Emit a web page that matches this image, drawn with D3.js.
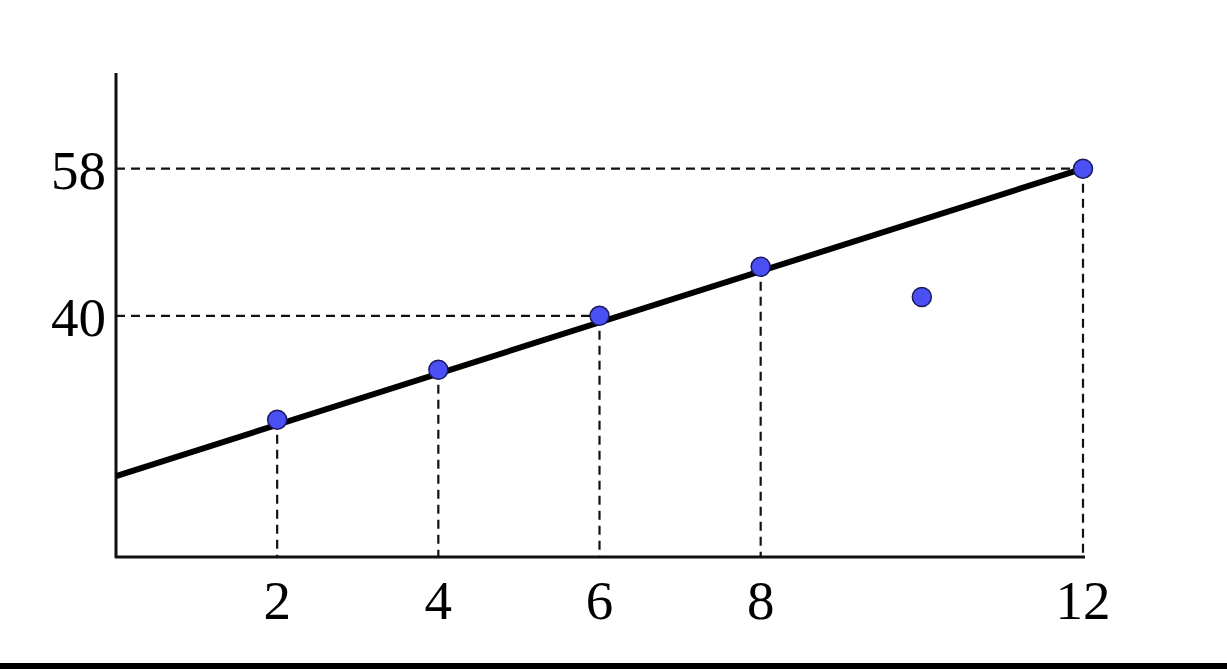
<!DOCTYPE html>
<html><head><meta charset="utf-8">
<script src="https://cdn.jsdelivr.net/npm/d3@7"></script>
<style>html,body{margin:0;padding:0;background:#fff;}svg{display:block;}</style>
</head><body>
<svg id="c" width="1227" height="669"></svg>
<script>
const xTicks = [2, 4, 6, 8, 12];
const yTicks = [40, 58];
const pointX = [2, 4, 6, 8, 10, 12];
const pointY = [27.3, 33.4, 40, 46.0, 42.3, 58];
const guideX = [2, 4, 6, 8, 12];      // points with dashed drop lines
const guideYFor = [6, 12];            // points with dashed horizontal lines
const lineX = [0, 12];
const lineY = [20.4, 58];

const svg = d3.select("#c");
const x = d3.scaleLinear().domain([0, 12]).range([116, 1083]);
const y = d3.scaleLinear().domain([10.5, 69.7]).range([557, 73]);
const pts = pointX.map((v, i) => ({x: v, y: pointY[i]}));
const font = "'Liberation Serif','Times New Roman',serif";

// dashed guides
const g = svg.append("g").attr("stroke", "#111").attr("stroke-width", 2.2).attr("stroke-dasharray", "9,6");
pts.filter(p => guideX.includes(p.x)).forEach(p => {
  g.append("line").attr("x1", x(p.x)).attr("x2", x(p.x)).attr("y1", y(p.y)).attr("y2", y(10.5));
});
pts.filter(p => guideYFor.includes(p.x)).forEach(p => {
  g.append("line").attr("x1", x(0)).attr("x2", x(p.x)).attr("y1", y(p.y)).attr("y2", y(p.y));
});

// axes
svg.append("line").attr("x1", x(0)).attr("x2", x(0)).attr("y1", y(69.7)).attr("y2", y(10.5)+1)
  .attr("stroke", "#111").attr("stroke-width", 3);
svg.append("line").attr("x1", x(0)-1).attr("x2", x(12)+2).attr("y1", y(10.5)).attr("y2", y(10.5))
  .attr("stroke", "#111").attr("stroke-width", 3);

// regression line
svg.append("path")
  .datum(lineX.map((v, i) => [v, lineY[i]]))
  .attr("d", d3.line().x(d => x(d[0])).y(d => y(d[1])))
  .attr("stroke", "#000").attr("stroke-width", 6).attr("fill", "none");

// points
svg.selectAll("circle.pt").data(pts).join("circle")
  .attr("cx", d => x(d.x)).attr("cy", d => y(d.y)).attr("r", 9.5)
  .attr("fill", "#4b50f5").attr("stroke", "#1a1a60").attr("stroke-width", 1.5);

// tick labels
svg.selectAll("text.xt").data(xTicks).join("text")
  .attr("x", d => x(d)).attr("y", 619).attr("text-anchor", "middle")
  .attr("font-family", font).attr("font-size", 55).attr("fill", "#000").text(d => d);
svg.selectAll("text.yt").data(yTicks).join("text")
  .attr("x", 106).attr("y", d => y(d) + 20).attr("text-anchor", "end")
  .attr("font-family", font).attr("font-size", 55).attr("fill", "#000").text(d => d);

// bottom border bar
svg.append("rect").attr("x", 0).attr("y", 663).attr("width", 1227).attr("height", 6).attr("fill", "#000");
</script>
</body></html>
